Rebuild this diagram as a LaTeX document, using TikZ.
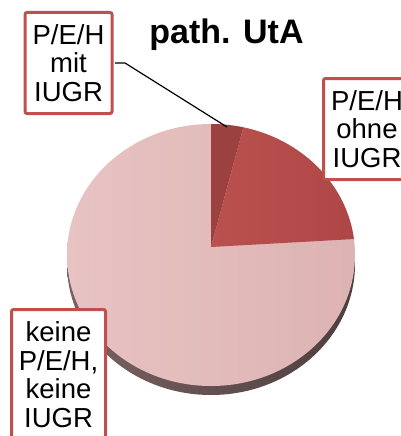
\documentclass[tikz,border=0pt]{standalone}
\usepackage{fontspec}
\setmainfont{Liberation Sans}
\usepackage{tikz}
\definecolor{boxred}{HTML}{C0504D}
\definecolor{pielight}{HTML}{E8C3C3}
\definecolor{piemid}{HTML}{DDB3B3}
\definecolor{slicedark}{HTML}{9B4241}
\definecolor{slicered}{HTML}{BA514F}
\definecolor{slicereddk}{HTML}{AD4745}
\definecolor{sidelight}{HTML}{7A6262}
\definecolor{sidedark}{HTML}{4E3E3E}

\begin{document}
\begin{tikzpicture}[x=1pt,y=-1pt,
    lbl/.style={draw=boxred, line width=3pt, fill=white, rounded corners=2pt,
      align=center, inner sep=0pt, minimum width=87, minimum height=101,
      font=\fontsize{27.5}{28.5}\selectfont}]
    \useasboundingbox (0,0) rectangle (401,436);
    \clip (0,0) rectangle (401,436);

    % Pie side
    \shade[left color=sidelight, right color=sidedark] (211,264) ellipse [x radius=144, y radius=131];

    % Pie top
    \shade[left color=pielight, right color=piemid] (211,255) ellipse [x radius=144, y radius=131];

    % Slices
    \fill[slicedark] (211,247) -- plot[domain=90:77, samples=20] ({211+144*cos(\x)},{255-131*sin(\x)}) -- cycle;
    \shade[left color=slicered, right color=slicereddk] (211,247) -- plot[domain=77:7, samples=40] ({211+144*cos(\x)},{255-131*sin(\x)}) -- cycle;

    % Title
    \node[font=\bfseries\fontsize{34}{35}\selectfont] (title) at (226.5,35) {path. UtA};

    % Labels
    \node[lbl] (mitIUGR) at (68.5,63) {P/E/H\\mit\\IUGR};
    \node[lbl] (ohneIUGR) at (367,129) {P/E/H\\ohne\\IUGR};
    \node[lbl, minimum width=94, minimum height=130] (keine) at (58.5,374.5) {keine\\P/E/H,\\keine\\IUGR};

    % Leader
    \coordinate (tip) at (227,127);
    \draw[line width=1.2pt] ([xshift=1.5pt]mitIUGR.east) -- ++(10,0) -- (tip);
\end{tikzpicture}
\end{document}
